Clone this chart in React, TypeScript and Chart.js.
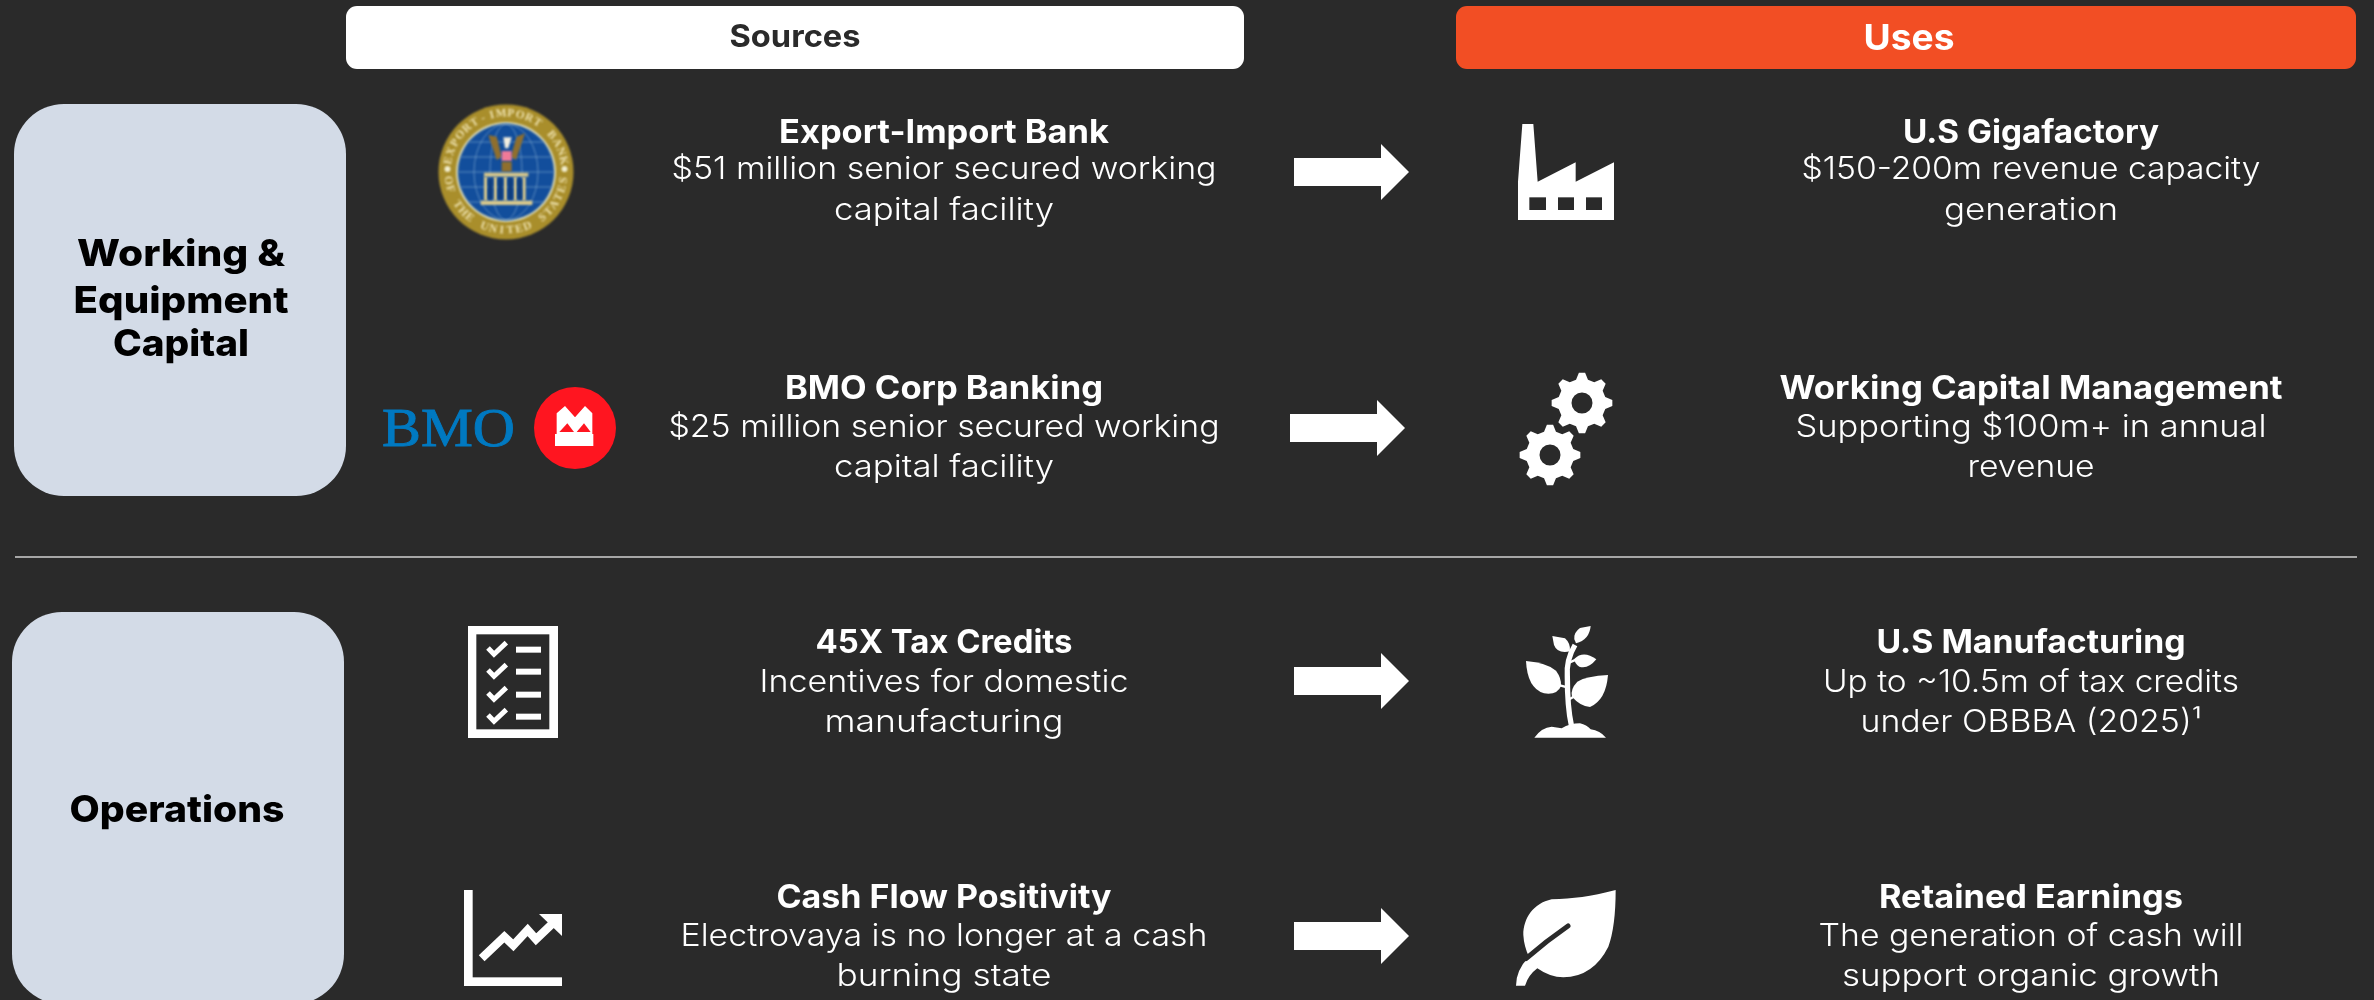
import React, { useEffect, useRef } from "react";
import { Chart, registerables } from "chart.js";

Chart.register(...registerables);

// ---- content ----
const headers = ["Sources", "Uses"];
const groupLabels = [["Working &", "Equipment", "Capital"], ["Operations"]];
const sourceTitles = ["Export-Import Bank", "BMO Corp Banking", "45X Tax Credits", "Cash Flow Positivity"];
const sourceLines = [
  ["$51 million senior secured working", "capital facility"],
  ["$25 million senior secured working", "capital facility"],
  ["Incentives for domestic", "manufacturing"],
  ["Electrovaya is no longer at a cash", "burning state"],
];
const useTitles = ["U.S Gigafactory", "Working Capital Management", "U.S Manufacturing", "Retained Earnings"];
const useLines = [
  ["$150-200m revenue capacity", "generation"],
  ["Supporting $100m+ in annual", "revenue"],
  ["Up to ~10.5m of tax credits", "under OBBBA (2025)¹"],
  ["The generation of cash will", "support organic growth"],
];

// ---- layout (separate from content) ----
const W = 2374;
const H = 1000;
const BG = "#2A2A2A";
const FONT = "Inter, 'Noto Sans', sans-serif";
const rowTitleBase = [143, 399, 653, 908];
const rowLine1Base = [179, 437, 692, 946];
const rowLine2Base = [220, 477, 732, 986];
const arrowRows = [
  { x0: 1294, cy: 172 },
  { x0: 1290, cy: 428 },
  { x0: 1294, cy: 681 },
  { x0: 1294, cy: 936 },
];
const sourceCx = 944;
const useCx = 2031;
// rendered line widths, to mimic the wider typeface of the reference
const sourceTitleW = [330, 318, 257, 335];
const sourceLine1W = [545, 551, 369, 527];
const sourceLine2W = [220, 220, 239, 215];
const useTitleW = [256, 503, 309, 304];
const useLine1W = [459, 471, 416, 425];
const useLine2W = [174, 127, 341, 378];
const groupW = [[208, 215, 136], [215]];

type C = CanvasRenderingContext2D;

function poly(ctx: C, pts: number[][], fill: string) {
  ctx.beginPath();
  pts.forEach((p, i) => (i ? ctx.lineTo(p[0], p[1]) : ctx.moveTo(p[0], p[1])));
  ctx.closePath();
  ctx.fillStyle = fill;
  ctx.fill();
}

function zoomSpace(ctx: C, ox: number, oy: number, draw: () => void) {
  ctx.save();
  ctx.translate(ox, oy);
  ctx.scale(1 / 3, 1 / 3);
  draw();
  ctx.restore();
}

function text(ctx: C, s: string, x: number, y: number, font: string, color: string, width: number) {
  ctx.save();
  ctx.font = font;
  ctx.fillStyle = color;
  ctx.textAlign = "center";
  ctx.textBaseline = "alphabetic";
  const natural = ctx.measureText(s).width;
  ctx.translate(x, y);
  ctx.scale(width / natural, 1);
  ctx.fillText(s, 0, 0);
  ctx.restore();
}

function roundBox(ctx: C, x0: number, y0: number, x1: number, y1: number, r: number, fill: string) {
  ctx.beginPath();
  ctx.roundRect(x0, y0, x1 - x0, y1 - y0, r);
  ctx.fillStyle = fill;
  ctx.fill();
}

function arrow(ctx: C, x0: number, cy: number) {
  poly(ctx, [
    [x0, cy - 14], [x0 + 87, cy - 14], [x0 + 87, cy - 28], [x0 + 115, cy],
    [x0 + 87, cy + 28], [x0 + 87, cy + 14], [x0, cy + 14],
  ], "#FFFFFF");
}

function factory(ctx: C) {
  zoomSpace(ctx, 1480, 100, () => {
    poly(ctx, [
      [127, 72], [160, 72], [173, 245], [287, 187], [287, 245], [402, 187], [402, 360], [114, 360], [114, 245],
    ], "#FFFFFF");
    [[148, 198], [234, 282], [318, 366]].forEach(([a, b]) => {
      ctx.fillStyle = BG;
      ctx.fillRect(a, 292, b - a, 38);
    });
  });
}

function gear(ctx: C, cx: number, cy: number) {
  const teeth = 8;
  ctx.beginPath();
  for (let i = 0; i < teeth; i++) {
    const a = -Math.PI / 2 + (i * 2 * Math.PI) / teeth;
    const step = (2 * Math.PI) / teeth;
    const pts: [number, number][] = [
      [a - step * 0.32, 24],
      [a - step * 0.13, 30.5],
      [a + step * 0.13, 30.5],
      [a + step * 0.32, 24],
    ];
    pts.forEach(([t, r], k) => {
      const px = cx + r * Math.cos(t);
      const py = cy + r * Math.sin(t);
      if (i === 0 && k === 0) ctx.moveTo(px, py);
      else ctx.lineTo(px, py);
    });
  }
  ctx.closePath();
  ctx.moveTo(cx + 10.5, cy);
  ctx.arc(cx, cy, 10.5, 0, Math.PI * 2, true);
  ctx.fillStyle = "#FFFFFF";
  ctx.fill("evenodd");
}

function plant(ctx: C) {
  zoomSpace(ctx, 1480, 610, () => {
    ctx.fillStyle = "#FFFFFF";
    ctx.strokeStyle = "#FFFFFF";
    const fillPath = (d: string) => ctx.fill(new Path2D(d));
    fillPath("M163,383 Q185,352 215,350 L245,355 Q270,340 300,340 Q320,345 332,358 Q360,362 378,383 Z");
    fillPath("M332,48 L300,54 Q280,68 283,88 L288,100 Q328,90 332,48 Z");
    fillPath("M217,78 L255,85 Q272,100 270,124 Q232,132 222,105 Z");
    fillPath("M283,147 Q310,120 349,148 Q325,178 298,170 Q283,160 283,147 Z");
    fillPath("M138,153 Q200,158 228,182 Q245,205 243,228 Q232,256 192,250 Q142,235 138,153 Z");
    fillPath("M384,195 Q320,198 292,215 Q270,238 276,260 Q300,288 330,291 Q378,270 384,195 Z");
    ctx.lineCap = "butt";
    ctx.lineWidth = 16;
    ctx.stroke(new Path2D("M274,345 Q262,290 262,200 Q258,150 285,105"));
    ctx.lineWidth = 7;
    ctx.stroke(new Path2D("M240,226 L262,232"));
    ctx.stroke(new Path2D("M262,160 L290,148"));
    ctx.stroke(new Path2D("M268,268 L285,258"));
  });
}

function leaf(ctx: C) {
  zoomSpace(ctx, 1480, 870, () => {
    ctx.fillStyle = "#FFFFFF";
    ctx.fill(new Path2D(
      "M407,60 C330,80 280,86 215,88 C160,100 130,145 130,195 Q132,230 147,260 Q108,300 108,347 L135,347 Q145,315 172,295 Q210,322 250,322 Q340,320 385,230 Q407,170 407,60 Z"
    ));
    ctx.strokeStyle = BG;
    ctx.lineWidth = 15;
    ctx.lineCap = "round";
    ctx.stroke(new Path2D("M264,168 Q200,212 138,266"));
    ctx.lineCap = "butt";
  });
}

function checklist(ctx: C) {
  zoomSpace(ctx, 440, 610, () => {
    ctx.fillStyle = "#FFFFFF";
    ctx.fillRect(84, 48, 270, 336);
    ctx.fillStyle = BG;
    ctx.fillRect(109, 73, 219, 285);
    [119, 185, 254, 320].forEach((y) => {
      ctx.fillStyle = "#FFFFFF";
      ctx.fillRect(228, y - 9, 75, 18);
      ctx.strokeStyle = "#FFFFFF";
      ctx.lineWidth = 15;
      ctx.beginPath();
      ctx.moveTo(144, y - 5);
      ctx.lineTo(162, y + 14);
      ctx.lineTo(199, y - 21);
      ctx.stroke();
    });
  });
}

function growth(ctx: C) {
  zoomSpace(ctx, 440, 610, () => {
    ctx.fillStyle = "#FFFFFF";
    ctx.fillRect(72, 840, 26, 288);
    ctx.fillRect(72, 1102, 294, 26);
    ctx.strokeStyle = "#FFFFFF";
    ctx.lineWidth = 25;
    ctx.lineCap = "butt";
    ctx.lineJoin = "miter";
    ctx.beginPath();
    ctx.moveTo(125, 1045);
    ctx.lineTo(193, 980);
    ctx.lineTo(220, 1006);
    ctx.lineTo(263, 960);
    ctx.lineTo(288, 988);
    ctx.lineTo(340, 938);
    ctx.stroke();
    poly(ctx, [[297, 912], [366, 912], [366, 978]], "#FFFFFF");
  });
}

function arcText(ctx: C, s: string, cx: number, cy: number, r: number, center: number, sweep: number, flip: boolean) {
  ctx.font = "bold 11.5px 'Liberation Serif', serif";
  ctx.fillStyle = "#EFE3B0";
  ctx.textAlign = "center";
  ctx.textBaseline = "middle";
  const n = s.length;
  for (let i = 0; i < n; i++) {
    const t = center + (flip ? -1 : 1) * ((i - (n - 1) / 2) / (n - 1)) * sweep;
    ctx.save();
    ctx.translate(cx + r * Math.cos(t), cy + r * Math.sin(t));
    ctx.rotate(t + (flip ? -Math.PI / 2 : Math.PI / 2));
    ctx.fillText(s[i], 0, 0);
    ctx.restore();
  }
}

function seal(ctx: C) {
  const cx = 506;
  const cy = 172;
  ctx.save();
  ctx.filter = "blur(0.9px)";
  ctx.beginPath();
  ctx.arc(cx, cy, 67.5, 0, Math.PI * 2);
  ctx.fillStyle = "#A98E2B";
  ctx.fill();
  ctx.beginPath();
  ctx.arc(cx, cy, 50, 0, Math.PI * 2);
  ctx.fillStyle = "#D8D6B0";
  ctx.fill();
  ctx.beginPath();
  ctx.arc(cx, cy, 48, 0, Math.PI * 2);
  ctx.fillStyle = "#124E9C";
  ctx.fill();
  ctx.strokeStyle = "#6F9AC8";
  ctx.lineWidth = 0.8;
  [-30, -15, 0, 15, 30].forEach((d) => {
    const w = Math.sqrt(48 * 48 - d * d);
    ctx.beginPath();
    ctx.moveTo(cx - w, cy + d);
    ctx.lineTo(cx + w, cy + d);
    ctx.stroke();
  });
  [16, 32].forEach((rx) => {
    ctx.beginPath();
    ctx.ellipse(cx, cy, rx, 48, 0, 0, Math.PI * 2);
    ctx.stroke();
  });
  zoomSpace(ctx, 340, 80, () => {
    poly(ctx, [[445, 165], [470, 170], [485, 230], [470, 240]], "#8F6F2E");
    poly(ctx, [[555, 160], [530, 170], [512, 230], [528, 240]], "#8F6F2E");
    poly(ctx, [[490, 172], [515, 172], [505, 205], [495, 205]], "#F2EFE0");
    ctx.fillStyle = "#F07A98";
    ctx.fillRect(485, 213, 30, 30);
    ctx.fillStyle = "#8F6F2E";
    ctx.fillRect(485, 245, 30, 30);
    ctx.fillStyle = "#D9C98C";
    ctx.fillRect(432, 278, 133, 12);
    ctx.fillRect(422, 362, 155, 13);
    [437, 466, 496, 526, 552].forEach((x) => ctx.fillRect(x - 5, 290, 10, 72));
    ctx.fillStyle = "#0E3D7E";
    [451, 481, 511, 539].forEach((x) => ctx.fillRect(x - 7, 296, 14, 62));
  });
  arcText(ctx, "EXPORT-IMPORT BANK", cx, cy, 58.5, -Math.PI / 2, 2.75, false);
  arcText(ctx, "OF THE UNITED STATES", cx, cy, 58.5, Math.PI / 2, 2.85, true);
  ctx.fillStyle = "#F2EFD0";
  [cx - 58.5, cx + 58.5].forEach((x) => {
    ctx.beginPath();
    ctx.arc(x, cy - 3, 3, 0, Math.PI * 2);
    ctx.fill();
  });
  ctx.restore();
}

function bmo(ctx: C) {
  ctx.save();
  ctx.filter = "blur(0.4px)";
  ctx.save();
  ctx.font = "54px 'Liberation Serif', serif";
  ctx.fillStyle = "#0079C1";
  ctx.strokeStyle = "#0079C1";
  ctx.lineWidth = 0.9;
  ctx.textAlign = "left";
  ctx.textBaseline = "alphabetic";
  ctx.translate(382, 446);
  ctx.scale(1.08, 1);
  ctx.fillText("BMO", 0, 0);
  ctx.strokeText("BMO", 0, 0);
  ctx.restore();
  ctx.beginPath();
  ctx.arc(575, 428, 41, 0, Math.PI * 2);
  ctx.fillStyle = "#FF1520";
  ctx.fill();
  zoomSpace(ctx, 360, 360, () => {
    poly(ctx, [
      [590, 160], [615, 138], [645, 172], [675, 138], [697, 160], [697, 222], [590, 222],
    ], "#FFFFFF");
    ctx.fillStyle = "#FFFFFF";
    ctx.fillRect(585, 222, 115, 36);
    poly(ctx, [[598, 216], [622, 190], [642, 216]], "#FF1520");
    poly(ctx, [[650, 216], [672, 190], [692, 216]], "#FF1520");
  });
  ctx.restore();
}

const slidePlugin = {
  id: "slide",
  afterDatasetsDraw(chart: any) {
    const ctx: C = chart.ctx;
    const sx = chart.scales.x;
    const sy = chart.scales.y;
    const X = (v: number) => sx.getPixelForValue(v);
    const Y = (v: number) => sy.getPixelForValue(v);

    ctx.save();
    ctx.fillStyle = BG;
    ctx.fillRect(0, 0, W, H);

    // header bars
    roundBox(ctx, X(346), Y(6), X(1244), Y(69), 11, "#FFFFFF");
    roundBox(ctx, X(1456), Y(6), X(2356), Y(69), 11, "#F24E24");
    text(ctx, headers[0], X(795), Y(47), `700 31px ${FONT}`, "#2A2A2A", 131);
    text(ctx, headers[1], X(1909), Y(50), `700 36px ${FONT}`, "#FFFFFF", 91);

    // group cards
    roundBox(ctx, X(14), Y(104), X(346), Y(496), 50, "#D3DBE7");
    roundBox(ctx, X(12), Y(612), X(344), Y(1004), 50, "#D3DBE7");
    [266, 313, 356].forEach((b, i) =>
      text(ctx, groupLabels[0][i], X(181), Y(b), `800 37px ${FONT}`, "#000000", groupW[0][i])
    );
    text(ctx, groupLabels[1][0], X(177), Y(822), `800 37px ${FONT}`, "#000000", groupW[1][0]);

    // divider
    ctx.strokeStyle = "#D0D0D0";
    ctx.lineWidth = 1.5;
    ctx.beginPath();
    ctx.moveTo(X(15), Y(557));
    ctx.lineTo(X(2357), Y(557));
    ctx.stroke();

    // text rows
    const titleFont = `700 32px ${FONT}`;
    const bodyFont = `300 31px ${FONT}`;
    sourceTitles.forEach((t, i) => {
      text(ctx, t, X(sourceCx), Y(rowTitleBase[i]), titleFont, "#FFFFFF", sourceTitleW[i]);
      text(ctx, sourceLines[i][0], X(sourceCx), Y(rowLine1Base[i]), bodyFont, "#FFFFFF", sourceLine1W[i]);
      text(ctx, sourceLines[i][1], X(sourceCx), Y(rowLine2Base[i]), bodyFont, "#FFFFFF", sourceLine2W[i]);
    });
    useTitles.forEach((t, i) => {
      text(ctx, t, X(useCx), Y(rowTitleBase[i]), titleFont, "#FFFFFF", useTitleW[i]);
      text(ctx, useLines[i][0], X(useCx), Y(rowLine1Base[i]), bodyFont, "#FFFFFF", useLine1W[i]);
      text(ctx, useLines[i][1], X(useCx), Y(rowLine2Base[i]), bodyFont, "#FFFFFF", useLine2W[i]);
    });

    // arrows
    arrowRows.forEach((a) => arrow(ctx, X(a.x0), Y(a.cy)));

    // logos and icons
    seal(ctx);
    bmo(ctx);
    checklist(ctx);
    growth(ctx);
    factory(ctx);
    gear(ctx, 1582, 403);
    gear(ctx, 1550, 455);
    plant(ctx);
    leaf(ctx);
    ctx.restore();
  },
};

export default function App() {
  const ref = useRef<HTMLCanvasElement>(null);
  useEffect(() => {
    document.body.style.margin = "0";
    document.body.style.background = BG;
    const chart = new Chart(ref.current!, {
      type: "scatter",
      data: { datasets: [{ data: [], pointRadius: 0 }] },
      options: {
        animation: false,
        responsive: false,
        devicePixelRatio: 1,
        layout: { padding: 0 },
        plugins: { legend: { display: false }, tooltip: { enabled: false } },
        scales: {
          x: { type: "linear", min: 0, max: W, display: false },
          y: { type: "linear", min: 0, max: H, reverse: true, display: false },
        },
      },
      plugins: [slidePlugin],
    } as any);
    return () => chart.destroy();
  }, []);
  return (
    <div style={{ width: W, height: H, overflow: "hidden" }}>
      <canvas ref={ref} width={W} height={H} style={{ display: "block" }} />
    </div>
  );
}
